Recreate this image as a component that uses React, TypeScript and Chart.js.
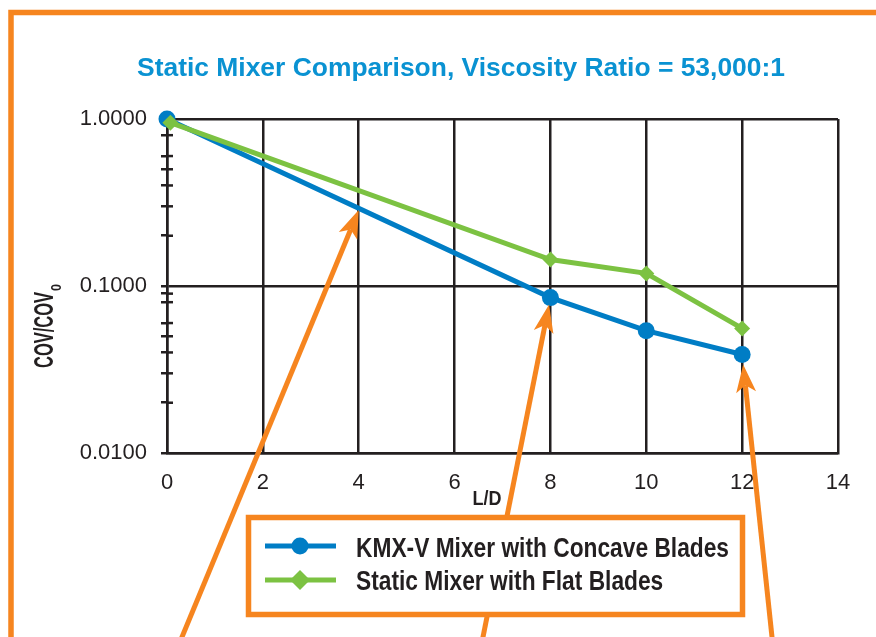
import { useEffect, useRef } from 'react';
import { Chart, registerables } from 'chart.js';

Chart.register(...registerables);

// ---------- data ----------
const TITLE = 'Static Mixer Comparison, Viscosity Ratio = 53,000:1';
const X_TITLE = 'L/D';
const Y_TITLE = 'COV/COV';
const Y_TITLE_SUB = '0';
const SERIES_LABELS = ['KMX-V Mixer with Concave Blades', 'Static Mixer with Flat Blades'];

const KMX_X = [0, 8, 10, 12];
const KMX_Y = [1.0, 0.0852, 0.054, 0.0389];
const FLAT_X = [0.07, 8, 10, 12];
const FLAT_Y = [0.95, 0.144, 0.119, 0.0557];

const X_TICKS = [0, 2, 4, 6, 8, 10, 12, 14];
const Y_MAJOR = [0.01, 0.1, 1];
const Y_MINOR = [0.02, 0.03, 0.04, 0.05, 0.06, 0.08, 0.09, 0.2, 0.3, 0.4, 0.5, 0.6, 0.8];

// arrows point at these data locations
const ARROW_X = [4, 8, 12];
const ARROW_Y = [0.285, 0.0852, 0.0389];

// ---------- styles ----------
const DARK = '#231f20';
const ORANGE = '#f6851f';
const BLUE = '#007dc5';
const GREEN = '#7cc242';
const TITLE_BLUE = '#0a92d2';
const FONT = "'Liberation Sans Narrow', 'Arial Narrow', 'Liberation Sans', Arial, sans-serif";

function fitText(ctx: CanvasRenderingContext2D, text: string, x: number, y: number, width: number, align: CanvasTextAlign) {
  const w = ctx.measureText(text).width || 1;
  const sx = width / w;
  ctx.save();
  ctx.translate(x, y);
  ctx.scale(sx, 1);
  ctx.textAlign = align;
  ctx.fillText(text, 0, 0);
  ctx.restore();
  return sx;
}

function drawArrow(ctx: CanvasRenderingContext2D, x0: number, y0: number, x1: number, y1: number) {
  const dx = x1 - x0;
  const dy = y1 - y0;
  const len = Math.hypot(dx, dy);
  const ux = dx / len;
  const uy = dy / len;
  const px = -uy;
  const py = ux;
  const headLen = 28;
  const half = 10;
  const notch = 21;
  ctx.save();
  ctx.strokeStyle = ORANGE;
  ctx.fillStyle = ORANGE;
  ctx.lineWidth = 5;
  ctx.beginPath();
  ctx.moveTo(x0, y0);
  ctx.lineTo(x1 - ux * notch, y1 - uy * notch);
  ctx.stroke();
  ctx.beginPath();
  ctx.moveTo(x1, y1);
  ctx.lineTo(x1 - ux * headLen + px * half, y1 - uy * headLen + py * half);
  ctx.lineTo(x1 - ux * notch, y1 - uy * notch);
  ctx.lineTo(x1 - ux * headLen - px * half, y1 - uy * headLen - py * half);
  ctx.closePath();
  ctx.fill();
  ctx.restore();
}

const decorPlugin = {
  id: 'decor',
  beforeDraw(chart: any) {
    const ctx: CanvasRenderingContext2D = chart.ctx;
    ctx.save();
    ctx.fillStyle = '#ffffff';
    ctx.fillRect(0, 0, chart.width, chart.height);
    ctx.strokeStyle = ORANGE;
    ctx.lineWidth = 5.5;
    ctx.beginPath();
    ctx.moveTo(11, chart.height + 10);
    ctx.lineTo(11, 12.5);
    ctx.lineTo(chart.width + 10, 12.5);
    ctx.stroke();
    ctx.restore();
  },
  beforeDatasetsDraw(chart: any) {
    const ctx: CanvasRenderingContext2D = chart.ctx;
    const y = chart.scales.y;
    const left = chart.chartArea.left;
    ctx.save();
    ctx.strokeStyle = DARK;
    ctx.lineWidth = 2.5;
    Y_MINOR.forEach((v) => {
      const py = y.getPixelForValue(v);
      ctx.beginPath();
      ctx.moveTo(left, py);
      ctx.lineTo(left + 6, py);
      ctx.stroke();
    });
    ctx.restore();
  },
  afterDraw(chart: any) {
    const ctx: CanvasRenderingContext2D = chart.ctx;
    const xs = chart.scales.x;
    const ys = chart.scales.y;

    // arrows
    const tailsX = [182, 483, 772];
    const gaps = [0, 7, 10];
    ARROW_X.forEach((v, i) => {
      const tx = xs.getPixelForValue(v);
      const ty = ys.getPixelForValue(ARROW_Y[i]);
      const bx = tailsX[i];
      const by = 637;
      const dx = tx - bx;
      const dy = ty - by;
      const l = Math.hypot(dx, dy);
      const ex = tx - (dx / l) * gaps[i];
      const ey = ty - (dy / l) * gaps[i];
      drawArrow(ctx, bx - (dx / l) * 20, by - (dy / l) * 20, ex, ey);
    });

    // title
    ctx.save();
    ctx.fillStyle = TITLE_BLUE;
    ctx.textBaseline = 'alphabetic';
    ctx.font = `bold 26px ${FONT}`;
    fitText(ctx, TITLE, 461, 76, 648, 'center');

    // x title
    ctx.fillStyle = DARK;
    ctx.font = `bold 21px ${FONT}`;
    fitText(ctx, X_TITLE, 487, 505, 29, 'center');

    // y title (rotated, with subscript)
    ctx.save();
    ctx.translate(53, 368);
    ctx.rotate(-Math.PI / 2);
    ctx.font = `bold 28px ${FONT}`;
    fitText(ctx, Y_TITLE, 0, 0, 76, 'left');
    ctx.font = `bold 14px ${FONT}`;
    fitText(ctx, Y_TITLE_SUB, 77, 8, 7, 'left');
    ctx.restore();

    // legend box
    ctx.fillStyle = '#ffffff';
    ctx.fillRect(248.5, 517.5, 494, 97);
    ctx.strokeStyle = ORANGE;
    ctx.lineWidth = 5.5;
    ctx.strokeRect(248.5, 517.5, 494, 97);

    const ds = chart.data.datasets;
    const rowsY = [546, 580];
    const baselines = [557, 590];
    ctx.font = `bold 27px ${FONT}`;
    const sx = 373 / (ctx.measureText(SERIES_LABELS[0]).width || 1);
    SERIES_LABELS.forEach((label, i) => {
      const d = ds[i];
      ctx.strokeStyle = d.borderColor;
      ctx.lineWidth = 5;
      ctx.beginPath();
      ctx.moveTo(265, rowsY[i]);
      ctx.lineTo(336, rowsY[i]);
      ctx.stroke();
      ctx.fillStyle = d.borderColor;
      ctx.beginPath();
      if (d.pointStyle === 'rectRot') {
        ctx.moveTo(300, rowsY[i] - 10);
        ctx.lineTo(310, rowsY[i]);
        ctx.lineTo(300, rowsY[i] + 10);
        ctx.lineTo(290, rowsY[i]);
        ctx.closePath();
      } else {
        ctx.arc(300, rowsY[i], 8.5, 0, Math.PI * 2);
      }
      ctx.fill();
      ctx.fillStyle = DARK;
      ctx.save();
      ctx.translate(356, baselines[i]);
      ctx.scale(sx, 1);
      ctx.textAlign = 'left';
      ctx.fillText(label, 0, 0);
      ctx.restore();
    });
    ctx.restore();
  },
};

export default function App() {
  const canvasRef = useRef<HTMLCanvasElement | null>(null);

  useEffect(() => {
    document.body.style.margin = '0';
    const canvas = canvasRef.current;
    if (!canvas) return;
    const chart = new Chart(canvas, {
      type: 'line',
      data: {
        datasets: [
          {
            label: SERIES_LABELS[0],
            data: KMX_X.map((x, i) => ({ x, y: KMX_Y[i] })),
            borderColor: BLUE,
            backgroundColor: BLUE,
            borderWidth: 5,
            pointStyle: 'circle',
            pointRadius: 8.5,
            pointBorderWidth: 0,
            pointBackgroundColor: BLUE,
            tension: 0,
            clip: false as any,
            order: 2,
          },
          {
            label: SERIES_LABELS[1],
            data: FLAT_X.map((x, i) => ({ x, y: FLAT_Y[i] })),
            borderColor: GREEN,
            backgroundColor: GREEN,
            borderWidth: 5,
            pointStyle: 'rectRot',
            pointRadius: 8,
            pointBorderWidth: 0,
            pointBackgroundColor: GREEN,
            tension: 0,
            clip: false as any,
            order: 1,
          },
        ],
      },
      options: {
        animation: false,
        responsive: true,
        maintainAspectRatio: false,
        devicePixelRatio: 1,
        layout: { padding: { left: 0, top: 119, right: 38, bottom: 144 } },
        plugins: {
          legend: { display: false },
          title: { display: false },
          tooltip: { enabled: false },
        },
        scales: {
          x: {
            type: 'linear',
            min: 0,
            max: 14,
            afterBuildTicks: (s: any) => {
              s.ticks = X_TICKS.map((v) => ({ value: v }));
            },
            afterFit: (s: any) => {
              s.height = 40;
            },
            grid: { color: DARK, lineWidth: 2.5, drawTicks: false },
            border: { color: DARK, width: 2.5 },
            ticks: {
              padding: 17,
              color: DARK,
              autoSkip: false,
              maxRotation: 0,
              font: { family: FONT, size: 22 },
            },
          },
          y: {
            type: 'logarithmic',
            min: 0.01,
            max: 1,
            afterBuildTicks: (s: any) => {
              s.ticks = [...Y_MAJOR, ...Y_MINOR]
                .sort((a, b) => a - b)
                .map((v) => ({ value: v, major: Y_MAJOR.includes(v) }));
            },
            afterFit: (s: any) => {
              s.width = 167;
            },
            grid: {
              color: (c: any) => (c.tick && Y_MAJOR.includes(c.tick.value) ? DARK : 'rgba(0,0,0,0)'),
              tickColor: DARK,
              lineWidth: 2.5,
              tickWidth: 2.5,
              tickLength: 6,
            },
            border: { color: DARK, width: 2.5 },
            ticks: {
              padding: 14,
              color: DARK,
              autoSkip: false,
              font: { family: FONT, size: 22 },
              callback: (v: any) => (Y_MAJOR.includes(Number(v)) ? Number(v).toFixed(4) : ''),
            },
          },
        },
      },
      plugins: [decorPlugin],
    });
    return () => chart.destroy();
  }, []);

  return (
    <div style={{ position: 'relative', width: '876px', height: '637px' }}>
      <canvas ref={canvasRef} />
    </div>
  );
}
